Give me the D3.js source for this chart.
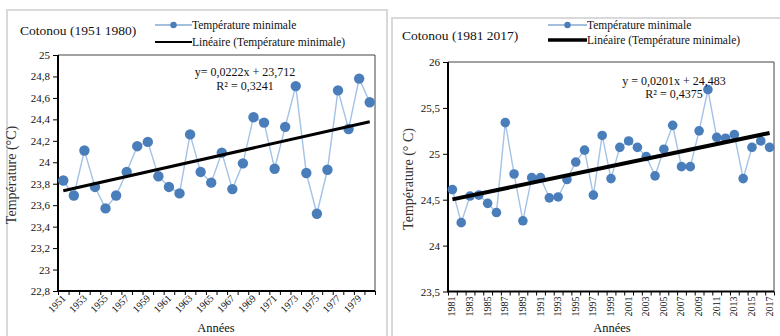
<!DOCTYPE html>
<html>
<head>
<meta charset="utf-8">
<script src="https://cdn.jsdelivr.net/npm/d3@7"></script>
<style>
  html, body { margin: 0; padding: 0; background: #fff; }
  svg text { font-family: "Liberation Serif", "DejaVu Serif", serif; }
</style>
</head>
<body>
<svg id="chart" width="780" height="336"></svg>
<script>
// Cotonou minimum temperature, 1951–1980
const yearsA = [1951, 1952, 1953, 1954, 1955, 1956, 1957, 1958, 1959, 1960,
                1961, 1962, 1963, 1964, 1965, 1966, 1967, 1968, 1969, 1970,
                1971, 1972, 1973, 1974, 1975, 1976, 1977, 1978, 1979, 1980];
const tminA = [23.83, 23.69, 24.11, 23.77, 23.57, 23.69, 23.91, 24.15, 24.19, 23.87,
               23.77, 23.71, 24.26, 23.91, 23.81, 24.09, 23.75, 23.99, 24.42, 24.37,
               23.94, 24.33, 24.71, 23.90, 23.52, 23.93, 24.67, 24.31, 24.78, 24.56];
const yTicksA = [22.8, 23, 23.2, 23.4, 23.6, 23.8, 24, 24.2, 24.4, 24.6, 24.8, 25];
const xLabelsA = [1951, 1953, 1955, 1957, 1959, 1961, 1963, 1965, 1967, 1969, 1971, 1973, 1975, 1977, 1979];
const trendA = [0.0222, 23.712];   // slope, intercept (x = 1 .. n)

// Cotonou minimum temperature, 1981–2017
const yearsB = [1981, 1982, 1983, 1984, 1985, 1986, 1987, 1988, 1989, 1990,
                1991, 1992, 1993, 1994, 1995, 1996, 1997, 1998, 1999, 2000,
                2001, 2002, 2003, 2004, 2005, 2006, 2007, 2008, 2009, 2010,
                2011, 2012, 2013, 2014, 2015, 2016, 2017];
const tminB = [24.61, 24.25, 24.54, 24.55, 24.46, 24.36, 25.34, 24.78, 24.27, 24.74,
               24.74, 24.52, 24.53, 24.72, 24.91, 25.04, 24.55, 25.20, 24.73, 25.07,
               25.14, 25.07, 24.97, 24.76, 25.05, 25.31, 24.86, 24.86, 25.25, 25.70,
               25.18, 25.17, 25.21, 24.73, 25.07, 25.14, 25.07];
const yTicksB = [23.5, 24, 24.5, 25, 25.5, 26];
const xLabelsB = [1981, 1983, 1985, 1987, 1989, 1991, 1993, 1995, 1997, 1999,
                  2001, 2003, 2005, 2007, 2009, 2011, 2013, 2015, 2017];
const trendB = [0.0201, 24.483];

const serieName = "Température minimale";
const trendName = "Linéaire (Température minimale)";

const FONT = "'Liberation Serif', 'DejaVu Serif', serif";
const svg = d3.select("#chart");
const commaFmt = v => String(v).replace(".", ",");

function txt(sel, size) {
  return sel.append("text").attr("font-family", FONT).attr("font-size", size).attr("fill", "#111");
}

function panel(o) {
  const g = svg.append("g");

  // outer chart frame
  g.append("rect")
    .attr("x", o.frame[0]).attr("y", o.frame[1])
    .attr("width", o.frame[2]).attr("height", o.frame[3])
    .attr("fill", "none").attr("stroke", "#d9d9d9").attr("stroke-width", 2);

  const n = o.years.length;
  const x = d3.scaleLinear().domain([0, n]).range([o.x0, o.x1]);
  const y = d3.scaleLinear().domain([o.yTicks[0], o.yTicks[o.yTicks.length - 1]]).range([o.yBot, o.yTop]);

  // plot border (top / right)
  g.append("path")
    .attr("d", `M${o.x0},${o.yTop}H${o.x1}V${o.yBot}`)
    .attr("fill", "none").attr("stroke", "#444").attr("stroke-width", 1);

  // y axis
  const ya = g.append("g").attr("transform", `translate(${o.x0},0)`)
    .call(d3.axisLeft(y).tickValues(o.yTicks).tickSize(5).tickPadding(3).tickFormat(commaFmt));
  ya.attr("font-family", FONT);
  ya.select(".domain").remove();
  ya.selectAll(".tick line").attr("stroke", "#000");
  ya.selectAll(".tick text").attr("font-size", 11).attr("fill", "#111").attr("font-family", FONT);

  // x axis: ticks between categories
  const xa = g.append("g").attr("transform", `translate(0,${o.yBot})`)
    .call(d3.axisBottom(x).tickValues(d3.range(n + 1)).tickSize(4).tickFormat(""));
  xa.select(".domain").remove();
  xa.selectAll(".tick line").attr("stroke", "#000");

  // axis lines
  g.append("path")
    .attr("d", `M${o.x0},${o.yTop}V${o.yBot}H${o.x1}`)
    .attr("fill", "none").attr("stroke", "#000").attr("stroke-width", 2);

  // x labels
  g.append("g").selectAll("text").data(o.xLabels).join("text")
    .attr("font-family", FONT).attr("font-size", 10).attr("fill", "#111").attr("text-anchor", "end")
    .attr("transform", d => {
      const cx = x(o.years.indexOf(d) + 0.5);
      return o.rot === -45
        ? `translate(${cx + 3},${o.yBot + 8}) rotate(-45)`
        : `translate(${cx + 3},${o.yBot + 5}) rotate(-90)`;
    })
    .text(d => d);

  // axis titles
  txt(g, 12.5).attr("text-anchor", "middle")
    .attr("x", o.xTitle[0]).attr("y", o.xTitle[1]).text("Années");
  txt(g, 14).attr("text-anchor", "middle").attr("fill", "#333")
    .attr("transform", `translate(${o.yTitle[0]},${o.yTitle[1]}) rotate(-90)`)
    .text(o.yTitleText);

  // series
  const line = d3.line().x((d, i) => x(i + 0.5)).y(d => y(d));
  g.append("path").datum(o.values).attr("d", line)
    .attr("fill", "none").attr("stroke", "#a3c2e6").attr("stroke-width", 1.4);
  g.append("g").selectAll("circle").data(o.values).join("circle")
    .attr("cx", (d, i) => x(i + 0.5)).attr("cy", d => y(d)).attr("r", o.r)
    .attr("fill", "#4a7ebb");

  // linear trend from the stated equation
  const tv = i => o.trend[1] + o.trend[0] * (i + 1);
  g.append("line")
    .attr("x1", x(0.5)).attr("y1", y(tv(0)))
    .attr("x2", x(n - 0.5)).attr("y2", y(tv(n - 1)))
    .attr("stroke", "#000").attr("stroke-width", o.trendW);

  // equation
  txt(g, 12).attr("text-anchor", "middle")
    .attr("x", o.eq[0]).attr("y", o.eq[1]).text(o.eqText);
  txt(g, 12).attr("text-anchor", "middle")
    .attr("x", o.eq[0]).attr("y", o.eq[2]).text(o.r2Text);

  // title
  txt(g, 13.5).attr("x", o.title[0]).attr("y", o.title[1]).text(o.titleText);

  // legend
  const L = o.legend;
  g.append("line").attr("x1", L[0]).attr("x2", L[1]).attr("y1", L[2]).attr("y2", L[2])
    .attr("stroke", "#4a7ebb").attr("stroke-width", 1.2);
  g.append("circle").attr("cx", (L[0] + L[1]) / 2).attr("cy", L[2]).attr("r", 3.2).attr("fill", "#4a7ebb");
  txt(g, 11.5).attr("x", L[1]).attr("y", L[2] + 4).text(serieName);
  g.append("line").attr("x1", L[0]).attr("x2", L[1]).attr("y1", L[3]).attr("y2", L[3])
    .attr("stroke", "#000").attr("stroke-width", o.legendTrendW);
  txt(g, 11.5).attr("x", L[1]).attr("y", L[3] + 4).text(trendName);
}

panel({
  frame: [7, 10, 380, 340],
  years: yearsA, values: tminA, yTicks: yTicksA, xLabels: xLabelsA, trend: trendA,
  x0: 58, x1: 375, yTop: 55, yBot: 291, rot: -45, r: 5.2,
  xTitle: [216, 332], yTitle: [16, 175], yTitleText: "Température (°C)",
  trendW: 3, legendTrendW: 2,
  eq: [245, 76, 90], eqText: "y= 0,0222x + 23,712", r2Text: "R² = 0,3241",
  title: [20, 35], titleText: "Cotonou (1951 1980)",
  legend: [155, 192, 25, 42]
});

panel({
  frame: [392, 18, 400, 340],
  years: yearsB, values: tminB, yTicks: yTicksB, xLabels: xLabelsB, trend: trendB,
  x0: 448, x1: 774, yTop: 62, yBot: 291.5, rot: -90, r: 4.8,
  xTitle: [612, 332], yTitle: [413, 179], yTitleText: "Température (° C)",
  trendW: 4, legendTrendW: 3.5,
  eq: [674, 85, 98], eqText: "y = 0,0201x + 24,483", r2Text: "R² = 0,4375",
  title: [402, 40], titleText: "Cotonou (1981 2017)",
  legend: [548, 587, 25, 40]
});
</script>
</body>
</html>
